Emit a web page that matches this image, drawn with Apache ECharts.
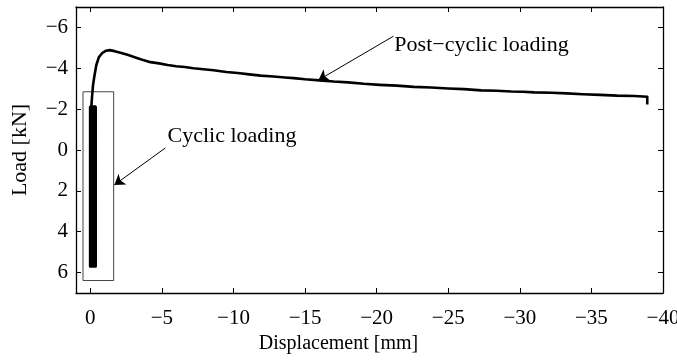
<!DOCTYPE html>
<html>
<head>
<meta charset="utf-8">
<script src="https://cdn.jsdelivr.net/npm/echarts@6/dist/echarts.min.js"></script>
<style>html,body{margin:0;padding:0;background:#fff}#c{width:677px;height:360px}</style>
</head>
<body>
<div id="c"></div>
<script>
// ---- data ----
const xRange = [-40, 1];          // displacement axis extent (mm)
const yRange = [-7, 7];           // load axis extent (kN)

// cyclic loading band (displacement mm, load kN) - repeated load cycles
const cycDisp = [0.00, 0.00, -0.36, -0.36, -0.10, -0.12, -0.24, -0.22, -0.05, -0.30, -0.34, -0.03, -0.18, -0.17, -0.28, -0.30, -0.02, -0.08, -0.14, -0.35, -0.31, -0.20, -0.06, 0.00, -0.20, -0.27, -0.33, -0.15, -0.08, -0.04];
const cycLoad = [-2.10, 5.69, -2.10, 5.69, -2.10, 5.69, -2.10, 5.69, -2.10, 5.69, -2.10, 5.69, -2.10, 5.69, -2.10, 5.69, -2.10, 5.69, -2.10, 5.69, -2.10, 5.69, -2.10, 5.69, -2.10, 5.69, -2.10, 5.69, -2.10, 5.69];

// post-cyclic loading curve
const postDisp = [-0.07, -0.12, -0.19, -0.28, -0.42, -0.60, -0.85, -1.10, -1.35, -1.70, -2.10, -2.60, -3.20, -3.70, -4.20, -4.80, -5.40, -6.00, -6.60, -7.20, -7.90, -8.60, -9.50, -10.3, -11.1, -11.9, -12.8, -13.6, -14.2, -15.0, -16.0, -17.0, -18.0, -19.1, -20.2, -21.4, -22.6, -23.8, -25.0, -26.1, -27.3, -28.4, -29.4, -30.2, -31.0, -32.2, -33.3, -34.4, -35.6, -36.8, -38.0, -38.9, -38.9];
const postLoad = [-2.10, -2.60, -3.18, -3.60, -4.16, -4.55, -4.76, -4.86, -4.89, -4.84, -4.76, -4.66, -4.52, -4.40, -4.30, -4.24, -4.16, -4.10, -4.06, -4.00, -3.95, -3.90, -3.82, -3.77, -3.70, -3.64, -3.60, -3.55, -3.52, -3.46, -3.41, -3.35, -3.31, -3.24, -3.19, -3.15, -3.09, -3.06, -3.01, -2.98, -2.92, -2.90, -2.86, -2.85, -2.82, -2.80, -2.77, -2.73, -2.70, -2.66, -2.64, -2.61, -2.23];

// annotation box around the cyclic loading band
const boxDisp = [0.51, -1.63];
const boxLoad = [-2.85, 6.39];

// annotations
const noteText = ['Cyclic loading', 'Post\u2212cyclic loading'];
const noteLabelDisp = [-5.36, -21.2];
const noteLabelLoad = [-0.68, -5.13];
const arrowFromDisp = [-5.24, -21.17];
const arrowFromLoad = [-0.10, -5.57];
const arrowToDisp = [-1.68, -15.93];
const arrowToLoad = [1.71, -3.42];

const xLabel = 'Displacement [mm]';
const yLabel = 'Load [kN]';

// ---- chart ----
const FONT = 'Liberation Serif';
const FS = 21;
const fmt = v => (v < 0 ? '\u2212' + Math.abs(v) : String(v));

const cycData = cycDisp.map((d, i) => [d, cycLoad[i]]);
const postData = postDisp.map((d, i) => [d, postLoad[i]]);

const axisLineStyle = { color: '#000', width: 1.3 };
function xAx(pos, showLabel) {
  return {
    type: 'value', position: pos, inverse: true,
    min: xRange[0], max: xRange[1], interval: 5,
    name: showLabel ? xLabel : '', nameLocation: 'middle', nameGap: 41,
    nameTextStyle: { fontFamily: FONT, fontSize: 20, color: '#000', padding: [0, 62, 0, 0] },
    axisLine: { show: true, onZero: false, lineStyle: axisLineStyle },
    axisTick: { show: true, inside: true, length: 5, lineStyle: { color: '#000', width: 1 } },
    axisLabel: { show: showLabel, formatter: fmt, showMinLabel: true, showMaxLabel: false,
      fontFamily: FONT, fontSize: FS, color: '#000', margin: 15 },
    splitLine: { show: false }
  };
}
function yAx(pos, showLabel) {
  return {
    type: 'value', position: pos, inverse: true,
    min: yRange[0], max: yRange[1], splitNumber: 7,
    name: showLabel ? yLabel : '', nameLocation: 'middle', nameGap: 45, nameRotate: 90,
    nameTextStyle: { fontFamily: FONT, fontSize: 22, color: '#000' },
    axisLine: { show: true, onZero: false, lineStyle: axisLineStyle },
    axisTick: { show: true, inside: true, length: 5, lineStyle: { color: '#000', width: 1 } },
    axisLabel: { show: showLabel, showMinLabel: false, showMaxLabel: false,
      formatter: v => (Math.abs(v) % 2 === 0 ? fmt(v) : ''),
      fontFamily: FONT, fontSize: FS, color: '#000', margin: 8 },
    splitLine: { show: false }
  };
}

const chart = echarts.init(document.getElementById('c'), null, { renderer: 'canvas' });
chart.setOption({
  animation: false,
  backgroundColor: '#fff',
  grid: { left: 76, right: 14, top: 7, bottom: 67, containLabel: false, outerBoundsMode: 'none' },
  xAxis: [xAx('bottom', true), xAx('top', false)],
  yAxis: [yAx('left', true), yAx('right', false)],
  series: [
    {
      type: 'line', name: 'cyclic', data: cycData, showSymbol: false, symbol: 'none',
      xAxisIndex: 0, yAxisIndex: 0,
      lineStyle: { color: '#000', width: 3, cap: 'round', join: 'round' }, z: 3
    },
    {
      type: 'line', name: 'post', data: postData, showSymbol: false, symbol: 'none',
      xAxisIndex: 0, yAxisIndex: 0,
      lineStyle: { color: '#000', width: 2.6, join: 'round' }, z: 3,
      markArea: {
        silent: true,
        itemStyle: { color: 'rgba(0,0,0,0)', borderColor: '#444', borderWidth: 1 },
        data: [[{ coord: [boxDisp[0], boxLoad[0]] }, { coord: [boxDisp[1], boxLoad[1]] }]]
      },
      markLine: {
        silent: true, animation: false,
        symbol: ['none', 'arrow'], symbolSize: 10,
        label: { show: false },
        lineStyle: { color: '#000', width: 1, type: 'solid' },
        data: noteText.map((t, i) => [
          { coord: [arrowFromDisp[i], arrowFromLoad[i]] },
          { coord: [arrowToDisp[i], arrowToLoad[i]] }
        ])
      },
      markPoint: {
        silent: true, symbol: 'rect', symbolSize: 1,
        itemStyle: { color: 'rgba(0,0,0,0)' },
        label: { show: true, position: 'right', distance: 0, color: '#000',
          fontFamily: FONT, fontSize: 22 },
        data: noteText.map((t, i) => ({
          coord: [noteLabelDisp[i], noteLabelLoad[i]],
          label: { formatter: t }
        }))
      }
    }
  ]
});
</script>
</body>
</html>
